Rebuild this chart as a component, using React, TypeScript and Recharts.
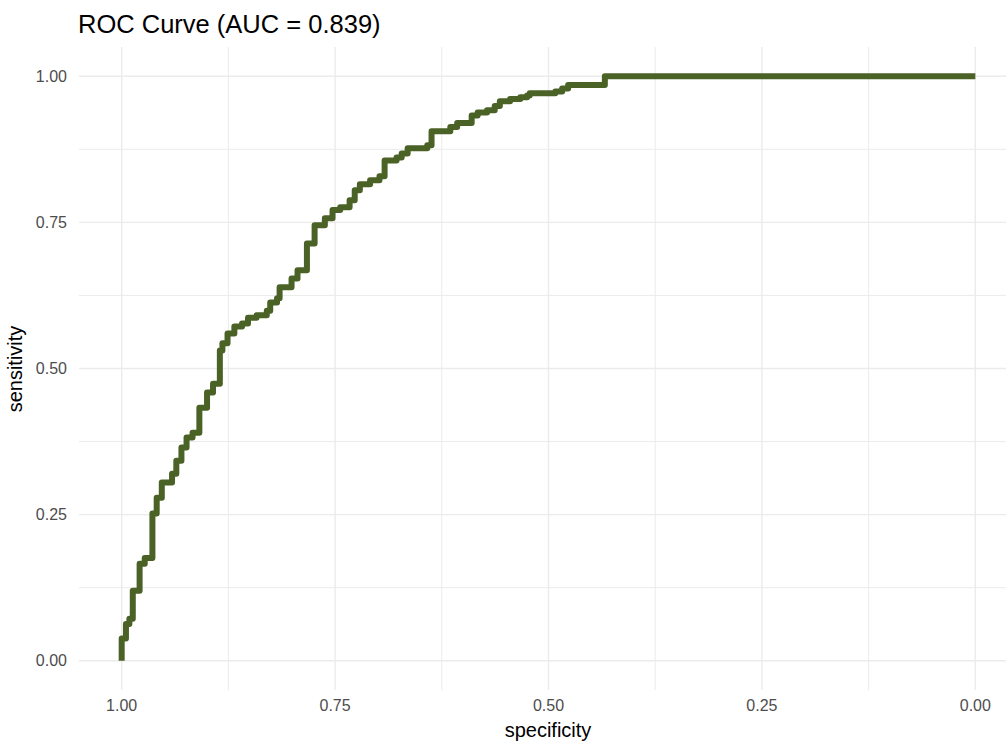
import React from "react";
import { LineChart, Line, XAxis, YAxis, ReferenceLine } from "recharts";

// ROC vertices as (specificity, sensitivity) pairs, walked from (1, 0) to (0, 1)
const specificity = [
  1.0, 1.0, 0.995, 0.995, 0.991, 0.991, 0.987, 0.987, 0.979, 0.979,
  0.973, 0.973, 0.964, 0.964, 0.959, 0.959, 0.953, 0.953, 0.941, 0.941,
  0.936, 0.936, 0.93, 0.93, 0.924, 0.924, 0.917, 0.917, 0.909, 0.909,
  0.9, 0.9, 0.893, 0.893, 0.885, 0.885, 0.882, 0.882, 0.876, 0.876,
  0.868, 0.868, 0.859, 0.859, 0.852, 0.852, 0.842, 0.842, 0.83, 0.83,
  0.826, 0.826, 0.818, 0.818, 0.815, 0.815, 0.801, 0.801, 0.794, 0.794,
  0.783, 0.783, 0.774, 0.774, 0.762, 0.762, 0.753, 0.753, 0.744, 0.744,
  0.733, 0.733, 0.727, 0.727, 0.721, 0.721, 0.709, 0.709, 0.698, 0.698,
  0.692, 0.692, 0.678, 0.678, 0.672, 0.672, 0.665, 0.665, 0.642, 0.642,
  0.637, 0.637, 0.615, 0.615, 0.607, 0.607, 0.59, 0.59, 0.583, 0.583,
  0.572, 0.572, 0.563, 0.563, 0.557, 0.557, 0.545, 0.545, 0.533, 0.533,
  0.525, 0.525, 0.522, 0.522, 0.492, 0.492, 0.484, 0.484, 0.477, 0.477,
  0.434, 0.434, 0.0,
];

const sensitivity = [
  0.0, 0.038, 0.038, 0.063, 0.063, 0.072, 0.072, 0.12, 0.12, 0.166,
  0.166, 0.176, 0.176, 0.252, 0.252, 0.279, 0.279, 0.305, 0.305, 0.32,
  0.32, 0.342, 0.342, 0.365, 0.365, 0.382, 0.382, 0.39, 0.39, 0.433,
  0.433, 0.459, 0.459, 0.474, 0.474, 0.531, 0.531, 0.543, 0.543, 0.56,
  0.56, 0.572, 0.572, 0.577, 0.577, 0.587, 0.587, 0.591, 0.591, 0.599,
  0.599, 0.613, 0.613, 0.62, 0.62, 0.639, 0.639, 0.654, 0.654, 0.668,
  0.668, 0.714, 0.714, 0.745, 0.745, 0.757, 0.757, 0.771, 0.771, 0.776,
  0.776, 0.788, 0.788, 0.805, 0.805, 0.815, 0.815, 0.822, 0.822, 0.829,
  0.829, 0.856, 0.856, 0.861, 0.861, 0.868, 0.868, 0.877, 0.877, 0.882,
  0.882, 0.906, 0.906, 0.913, 0.913, 0.92, 0.92, 0.933, 0.933, 0.938,
  0.938, 0.942, 0.942, 0.949, 0.949, 0.957, 0.957, 0.961, 0.961, 0.964,
  0.964, 0.967, 0.967, 0.971, 0.971, 0.974, 0.974, 0.979, 0.979, 0.985,
  0.985, 1.0, 1.0,
];

const MAJOR_BREAKS = [0, 0.25, 0.5, 0.75, 1];
const MINOR_BREAKS = [0.125, 0.375, 0.625, 0.875];
const AUC = 0.839;

const rocData = specificity.map((spec, i) => ({ spec, sens: sensitivity[i] }));

const FONT = '"Liberation Sans", Arial, Helvetica, sans-serif';
const GRID = "#ebebeb";
const LINE_COLOR = "#4b6226";

// theme_minimal-style grid: major and minor lines, no panel border
const gridLines = (axis: "x" | "y") => [
  ...MAJOR_BREAKS.map((v) => (
    <ReferenceLine key={`${axis}-maj-${v}`} {...{ [axis]: v }} stroke={GRID} strokeWidth={1.4} />
  )),
  ...MINOR_BREAKS.map((v) => (
    <ReferenceLine key={`${axis}-min-${v}`} {...{ [axis]: v }} stroke={GRID} strokeWidth={1} />
  )),
];

export default function App() {
  return (
    <div
      style={{
        position: "absolute",
        left: 0,
        top: 0,
        width: 1006,
        height: 742,
        overflow: "hidden",
        background: "#fff",
        fontFamily: FONT,
      }}
    >
      <LineChart
        width={1018}
        height={742}
        data={rocData}
        margin={{ top: 47, right: 0, bottom: 0, left: 0 }}
      >
        {gridLines("x")}
        {gridLines("y")}
        <XAxis
          dataKey="spec"
          type="number"
          domain={[-0.05, 1.05]}
          allowDataOverflow
          reversed
          ticks={MAJOR_BREAKS}
          interval={0}
          tickFormatter={(v: number) => v.toFixed(2)}
          tickLine={false}
          axisLine={false}
          tickSize={0}
          tickMargin={10}
          height={52}
          tick={{ fontSize: 16, fill: "#4d4d4d", fontFamily: FONT }}
        />
        <YAxis
          type="number"
          domain={[-0.05, 1.05]}
          allowDataOverflow
          ticks={MAJOR_BREAKS}
          interval={0}
          tickFormatter={(v: number) => v.toFixed(2)}
          tickLine={false}
          axisLine={false}
          tickSize={0}
          tickMargin={12}
          width={79}
          tick={{ fontSize: 16, fill: "#4d4d4d", fontFamily: FONT }}
        />
        <Line
          dataKey="sens"
          type="linear"
          stroke={LINE_COLOR}
          strokeWidth={6}
          strokeLinejoin="round"
          dot={false}
          activeDot={false}
          isAnimationActive={false}
        />
      </LineChart>
      <svg
        width={1006}
        height={742}
        style={{ position: "absolute", left: 0, top: 0, pointerEvents: "none" }}
      >
        <text x={78} y={33} fontSize={25.5} fill="#000" fontFamily={FONT}>
          {`ROC Curve (AUC = ${AUC.toFixed(3)})`}
        </text>
        <text
          x={548}
          y={737}
          fontSize={20}
          fill="#000"
          textAnchor="middle"
          fontFamily={FONT}
        >
          specificity
        </text>
        <text
          transform="translate(22, 369) rotate(-90)"
          fontSize={20}
          fill="#000"
          textAnchor="middle"
          fontFamily={FONT}
        >
          sensitivity
        </text>
      </svg>
    </div>
  );
}
